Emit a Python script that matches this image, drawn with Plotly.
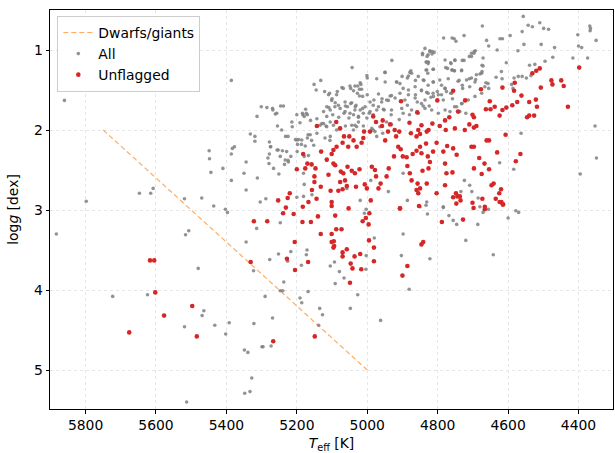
import plotly.graph_objects as go

# Effective temperature [K] and surface gravity [dex] for the full sample
teff_all = [
    5860, 5883, 5386, 5151, 5145, 5301, 5285, 5269, 5246, 5238,
    5313, 5261, 5200, 5184, 5175, 5179, 5170, 5161, 5143, 5255,
    5213, 5191, 5332, 5319, 5232, 5225, 5204, 5195, 5168, 5278,
    5198, 5187, 5176, 5158, 5152, 5377, 5383, 5275, 5256, 5241,
    5229, 5199, 5179, 5449, 5386, 5278, 5282, 5448, 5225, 5217,
    5235, 5167, 5344, 5279, 5444, 5410, 5350, 5251, 5386, 5312,
    5179, 5344, 5647, 5615, 5608, 5798, 5519, 5470, 5304, 5288,
    5200, 5181, 5436, 5403, 5157, 5319, 5274, 5253,
    4557, 4543, 4531, 4510, 4499, 4485, 4560, 4594, 4616, 4623,
    4673, 4725, 4753, 4748, 4783, 4661, 4655, 4555, 4506, 4468,
    4402, 4368, 4366, 4367, 4350, 4400, 4391, 4572, 4631, 4693,
    4697, 4704, 4725, 4751, 4763, 4772, 4758, 4752, 4732, 4822,
    4816, 4843, 4830, 4833, 4826, 4930, 5043, 5001, 4950, 4879,
    4833, 4813, 4605, 4539, 4524, 4495, 4473, 4416, 4374, 4671,
    4674, 4619, 4634, 4617, 4583, 4571, 4560, 4548, 4535, 4710,
    4692, 4680, 4663, 4655, 4590, 4586, 4739, 4729, 4770, 4779,
    4763, 4758, 4752, 4737, 4720, 4731, 4789, 4801, 4813, 4839,
    4863, 4886, 4901, 4917, 4949, 4973, 5000, 5020, 5035, 5047,
    5068, 5085, 5100, 5121, 5132, 5110, 5022, 5013, 5000, 4968,
    4958, 4940, 4931, 4907, 4883, 4863, 4846, 4831, 4819, 4813,
    4858, 4841, 4824, 4886, 4898, 4880, 4909, 4932, 4952, 4983,
    4994, 5013, 5034, 5047, 5062, 5077, 5092, 5109, 5124, 5115,
    5098, 5081, 5066, 5052, 5039, 5025, 5044, 5030, 5011, 4983,
    4964, 4945, 4931, 5129, 5117, 5105, 5079, 5062, 5120, 5106,
    4973, 4956, 4563, 4353, 4349, 4584, 4624, 4395, 5115, 5058,
    4990, 5020, 4898, 4940, 4886, 4831, 4724, 4709, 4703, 4784,
    4850, 4734, 4685,
    5516, 5507, 5397, 5314, 5247, 5344, 5480, 5252, 5277, 5226,
    5217, 5171, 5173, 5187, 5323, 5237, 5247, 5240, 5168, 5723,
    5624, 5290, 5191, 5186, 5135, 5127, 5464, 5469, 5519, 5433,
    5392, 5322, 5269, 5138, 5402, 5299, 5296, 5273, 5349, 5339,
    5328, 5348, 5333, 5513, 5105, 5093, 5091, 5079,
    5008, 5003, 4829, 4833, 4898, 4980, 5003, 5004, 4903, 4822,
    5066, 4881, 5027, 5048, 4962, 4784, 4768, 4756, 4746, 4720,
    4686, 4671, 4680, 4656, 4642, 4600, 4578, 4570,
    5107, 5087, 5072, 5049, 5039, 5027, 5018, 5016, 5028, 5022,
    5101, 5115, 5105, 5091, 5082, 5063, 5056, 5044, 5032, 5020,
    5006, 4992, 4981, 5063, 5049, 5035, 5025, 5011, 5001, 4992,
    4983, 4973, 5268, 5257, 5183, 5173, 5214, 5243, 5200, 5186,
    5170, 5162, 5143, 5134, 5124, 5115, 5096, 5087, 5105, 5039,
    5035, 5025, 4987, 4978, 5247, 5233, 5224, 5266, 5181,
    4759, 4836, 4822, 4815, 4810, 4827, 4843, 4831, 4827, 4831,
    4828, 4812, 4779, 4762, 4751, 4730, 4704, 4696, 4710, 4760,
    4753, 4732, 4777, 4674, 4671, 4675, 4690, 4704, 4718, 4742,
    4730, 4709, 4694, 4949, 4916, 4907, 4883, 4876, 4874, 4898,
    4864, 4846, 4827, 4812, 4841, 4855, 4794, 4789, 4779, 4775,
    4760, 4784, 4798, 4812, 4827, 4836, 4846, 4864, 4883, 4893,
    4921, 4935, 4945, 4959, 4968, 4954, 4931, 4902, 4874, 4855,
    4836, 4817, 4798, 4779, 4765, 4746, 4732, 4713, 4694, 4675,
    4666, 4657,
]
logg_all = [
    1.63, 3.30, 1.38, 1.43, 1.50, 1.71, 1.72, 1.73, 1.70, 1.70,
    1.83, 1.80, 1.81, 1.79, 1.74, 1.83, 1.81, 1.88, 1.86, 1.95,
    1.96, 1.91, 2.05, 2.08, 2.08, 2.08, 2.12, 2.12, 2.06, 2.15,
    2.18, 2.18, 2.20, 2.13, 2.19, 2.21, 2.23, 2.21, 2.25, 2.26,
    2.27, 2.27, 2.33, 2.26, 2.30, 2.30, 2.35, 2.36, 2.38, 2.33,
    2.43, 2.32, 2.40, 2.42, 2.53, 2.48, 2.54, 2.55, 2.63, 2.60,
    2.68, 2.75, 2.79, 2.79, 2.73, 2.89, 2.86, 2.85, 2.90, 2.86,
    2.84, 2.83, 2.95, 2.99, 2.81, 2.14, 2.21, 2.25,
    0.58, 0.69, 0.71, 0.66, 0.73, 0.74, 0.77, 0.82, 0.86, 0.86,
    0.70, 0.82, 0.86, 0.89, 0.85, 0.88, 0.95, 0.93, 0.93, 0.97,
    0.81, 0.70, 0.73, 0.76, 0.88, 0.95, 0.97, 1.01, 1.00, 1.01,
    1.04, 1.08, 1.13, 1.13, 1.16, 1.23, 1.25, 1.26, 1.25, 1.02,
    1.05, 1.04, 1.08, 1.15, 1.15, 1.13, 1.22, 1.32, 1.28, 1.28,
    1.25, 1.24, 1.16, 1.19, 1.18, 1.14, 1.09, 1.10, 1.10, 1.20,
    1.27, 1.27, 1.34, 1.36, 1.35, 1.33, 1.33, 1.35, 1.32, 1.36,
    1.37, 1.30, 1.41, 1.48, 1.43, 1.48, 1.38, 1.48, 1.36, 1.48,
    1.54, 1.61, 1.71, 1.77, 1.79, 1.67, 1.56, 1.52, 1.40, 1.38,
    1.38, 1.35, 1.33, 1.40, 1.40, 1.36, 1.35, 1.41, 1.45, 1.48,
    1.48, 1.52, 1.61, 1.52, 1.38, 1.56, 1.49, 1.58, 1.56, 1.55,
    1.61, 1.63, 1.57, 1.54, 1.50, 1.56, 1.51, 1.53, 1.59, 1.54,
    1.65, 1.70, 1.70, 1.69, 1.79, 1.81, 1.87, 1.81, 1.75, 1.69,
    1.79, 1.73, 1.71, 1.67, 1.70, 1.73, 1.71, 1.72, 1.77, 1.83,
    1.81, 1.84, 1.79, 1.85, 1.81, 1.84, 1.94, 1.96, 1.95, 2.00,
    1.96, 1.90, 1.93, 1.92, 1.95, 1.90, 1.98, 1.95, 2.10, 2.13,
    2.08, 2.04, 2.04, 1.95, 2.35, 2.49, 2.41, 2.55, 2.38, 2.73,
    2.63, 2.88, 2.54, 2.77, 2.88, 2.90, 2.63, 2.69, 2.77, 2.96,
    2.96, 2.77, 2.85,
    3.31, 3.26, 3.03, 3.23, 3.16, 3.40, 3.73, 3.55, 3.62, 3.64,
    3.52, 3.50, 3.56, 3.69, 3.76, 3.90, 4.01, 4.01, 4.02, 4.08,
    4.06, 4.08, 4.10, 4.16, 4.23, 4.31, 4.26, 4.32, 4.46, 4.44,
    4.41, 4.42, 4.35, 4.44, 4.55, 4.71, 4.71, 4.70, 4.75, 4.78,
    5.10, 5.29, 5.27, 5.40, 3.70, 3.65, 3.92, 3.77,
    3.04, 2.99, 3.05, 2.94, 3.30, 3.35, 3.57, 3.74, 3.57, 3.61,
    3.85, 3.99, 4.06, 4.23, 4.38, 2.97, 3.07, 3.13, 3.18, 3.38,
    3.18, 3.03, 2.96, 2.99, 3.56, 3.10, 3.01, 3.03,
    1.54, 1.56, 1.47, 1.45, 1.51, 1.45, 1.43, 1.49, 1.54, 1.575,
    1.63, 1.71, 1.75, 1.66, 1.69, 1.65, 1.71, 1.66, 1.69, 1.75,
    1.71, 1.65, 1.625, 1.77, 1.79, 1.75, 1.83, 1.79, 1.85, 1.77,
    1.81, 1.75, 1.75, 1.79, 1.81, 1.79, 1.90, 2.00, 2.125, 2.125,
    2.10, 2.06, 2.04, 1.94, 1.92, 1.96, 1.94, 2.00, 2.08, 2.00,
    1.94, 1.90, 1.98, 2.02, 2.33, 2.375, 2.40, 2.48, 2.54,
    0.85, 0.98, 1.01, 1.02, 1.03, 1.06, 1.06, 1.15, 1.17, 1.25,
    1.29, 1.24, 1.125, 1.17, 1.125, 1.13, 1.04, 1.02, 1.08, 1.25,
    1.26, 1.26, 1.22, 1.19, 1.10, 1.29, 1.31, 1.35, 1.375, 1.39,
    1.44, 1.46, 1.40, 1.28, 1.40, 1.42, 1.325, 1.26, 1.29, 1.48,
    1.46, 1.50, 1.44, 1.40, 1.375, 1.33, 1.375, 1.44, 1.48, 1.52,
    1.54, 1.625, 1.56, 1.58, 1.54, 1.625, 1.67, 1.60, 1.56, 1.625,
    1.60, 1.575, 1.625, 1.65, 1.71, 1.74, 1.75, 1.73, 1.75, 1.79,
    1.73, 1.75, 1.79, 1.75, 1.77, 1.71, 1.67, 1.625, 1.58, 1.54,
    1.46, 1.42,
]

# Stars that pass all quality flags
teff_unflagged = [
    5143, 5182, 5200, 5176, 5170, 5158, 5147, 5150, 5150, 5220,
    5226, 5157, 5144, 5253, 5231, 5183, 5167,
    4510, 4520, 4531, 4398, 4477, 4474, 4449, 4442, 4507, 4581,
    4583, 4616, 4562, 4574, 4588, 4605, 4616, 4624, 4540, 4521,
    4518, 4430, 4526, 4540, 4546, 4677, 4652, 4663, 4650, 4638,
    4722, 4756, 4801, 4742, 4701, 4697, 4710, 4697, 4690, 4723,
    4751, 4767, 4779, 4777, 4794, 4815, 4826, 4846, 4855, 4858,
    4880, 4876, 4860, 4850, 4831, 4904, 4909, 4918, 4922, 4941,
    4958, 4975, 4983, 4956, 4935, 4949, 4992, 5009, 5011, 5016,
    5039, 5051, 5066, 5054, 5030, 5088, 5077, 5070, 5087, 5096,
    5101, 5096, 5091, 5115, 5110, 5131, 5132, 5075, 5068, 5056,
    5044, 5035, 5022, 5077, 5063, 5104, 5082, 5070, 5058, 5032,
    5007, 5001, 4987, 4978, 4975, 4962, 4968, 4990, 4939, 4945,
    4924, 4912, 4905, 4899, 4888, 4871, 4860, 4850, 4833, 4846,
    4828, 4813, 4803, 4886, 4879, 4874, 4857, 4850, 4822, 4826,
    4843, 4831, 4855, 4860, 4907, 4784, 4773, 4756, 4746, 4779,
    4775, 4758, 4803, 4779, 4756, 4737, 4748, 4704, 4697, 4682,
    4667, 4661, 4654, 4697, 4675, 4654, 4647, 4641, 4631, 4607,
    4620, 4625, 4635, 4619, 4614, 4673, 4666, 4565, 4578, 4701,
    4735, 4744,
    5101, 5101, 5239, 5209, 5140, 5091, 5322, 5284, 5184, 5160,
    5088, 5132, 5101, 5206, 5101, 5095, 5094, 5096, 5617, 5605,
    5331, 5228, 5168, 5205, 5602, 5497, 5577, 5676, 5484, 5267,
    5149,
    5053, 5073, 5070, 5070, 5058, 5047, 5042, 5036, 5020, 5017,
    5049, 4994, 5004, 5013, 4996, 4995, 4981, 4981, 4907, 4853,
    4846, 4841, 4886, 4900, 4788, 4747, 4728, 4698, 4666, 4624,
    4615,
]
logg_unflagged = [
    1.95, 2.30, 2.49, 2.48, 2.42, 2.43, 2.48, 2.58, 2.65, 2.79,
    2.85, 2.75, 2.86, 2.88, 2.97, 2.96, 2.90,
    1.23, 1.26, 1.29, 1.22, 1.38, 1.43, 1.38, 1.45, 1.47, 1.41,
    1.51, 1.47, 1.57, 1.65, 1.69, 1.72, 1.75, 1.82, 1.65, 1.62,
    1.71, 1.71, 1.82, 1.82, 1.84, 1.49, 1.64, 1.74, 1.74, 1.71,
    1.63, 1.51, 1.63, 1.77, 1.81, 1.84, 1.93, 1.97, 1.95, 2.00,
    1.98, 1.84, 1.88, 2.00, 1.95, 1.92, 2.00, 1.94, 2.00, 1.78,
    1.91, 2.04, 2.08, 2.05, 2.02, 1.64, 2.02, 2.08, 2.00, 2.02,
    1.95, 1.90, 1.83, 1.88, 1.93, 2.13, 2.02, 2.02, 2.10, 2.16,
    2.13, 2.08, 2.08, 2.21, 2.21, 1.90, 1.98, 2.16, 2.21, 2.25,
    2.30, 2.42, 2.44, 2.37, 2.56, 2.27, 2.71, 2.52, 2.54, 2.46,
    2.51, 2.54, 2.49, 2.65, 2.63, 2.76, 2.76, 2.74, 2.70, 2.71,
    2.68, 2.73, 2.46, 2.50, 2.58, 2.67, 2.73, 2.88, 2.48, 2.58,
    2.33, 2.21, 2.24, 2.33, 2.34, 2.30, 2.26, 2.21, 2.17, 2.29,
    2.33, 2.27, 2.16, 2.45, 2.54, 2.63, 2.67, 2.73, 2.40, 2.48,
    2.51, 2.67, 2.79, 2.75, 2.98, 2.27, 2.20, 2.23, 2.31, 2.42,
    2.54, 2.53, 2.79, 2.69, 2.84, 2.83, 2.79, 2.21, 2.21, 2.35,
    2.42, 2.13, 2.13, 2.48, 2.55, 2.49, 2.69, 2.67, 2.28, 2.06,
    2.74, 2.79, 2.86, 2.90, 2.93, 2.86, 2.96, 2.30, 2.39, 2.91,
    2.88, 2.83,
    2.90, 2.95, 3.04, 3.05, 3.08, 3.07, 3.14, 3.14, 3.15, 3.15,
    3.24, 3.30, 3.30, 3.40, 3.40, 3.39, 3.45, 3.47, 3.63, 3.63,
    3.65, 3.61, 3.65, 3.75, 4.03, 4.20, 4.32, 4.53, 4.58, 4.64,
    4.58,
    2.98, 3.24, 3.53, 3.58, 3.49, 3.67, 3.73, 3.58, 3.55, 3.74,
    3.91, 3.04, 3.10, 3.14, 3.18, 3.38, 3.47, 3.64, 2.98, 2.95,
    3.43, 3.40, 3.70, 3.82, 3.15, 2.92, 3.12, 2.975, 2.99, 2.90,
    2.93,
]

# Dwarf/giant separation line
boundary_teff = [5750, 5000]
boundary_logg = [2.0, 5.0]

x_ticks = [5800, 5600, 5400, 5200, 5000, 4800, 4600, 4400]
y_ticks = [1, 2, 3, 4, 5]

FONT = "DejaVu Sans"
FS = 13.9

fig = go.Figure()
fig.add_trace(go.Scatter(
    x=boundary_teff, y=boundary_logg, mode="lines", name="Dwarfs/giants",
    line=dict(color="rgba(255,127,14,0.65)", width=1.2, dash="5px,3px"),
))
fig.add_trace(go.Scatter(
    x=teff_all, y=logg_all, mode="markers", name="All",
    marker=dict(color="rgba(128,128,128,0.85)", size=3.6, line=dict(width=0)),
))
fig.add_trace(go.Scatter(
    x=teff_unflagged, y=logg_unflagged, mode="markers", name="Unflagged",
    marker=dict(color="#d62728", size=4.6, line=dict(width=0)),
))

axis_common = dict(
    showline=True, linecolor="black", linewidth=1, mirror=True,
    ticks="outside", ticklen=3.5, tickwidth=1, tickcolor="black",
    showgrid=True, gridcolor="#e6e6e6", griddash="3px,3px", gridwidth=0.8,
    zeroline=False, tickfont=dict(family=FONT, size=FS, color="black"),
)

fig.update_xaxes(
    range=[5901, 4302], tickvals=x_ticks,
    title=dict(text="<i>T</i><sub>eff</sub> [K]", font=dict(family=FONT, size=FS, color="black"), standoff=8),
    **axis_common,
)
fig.update_yaxes(
    range=[5.4875, 0.5], tickvals=y_ticks,
    title=dict(text="log<i>g</i> [dex]", font=dict(family=FONT, size=FS, color="black"), standoff=12),
    **axis_common,
)

fig.update_layout(
    width=615, height=453,
    margin=dict(l=50, r=2, t=10, b=44),
    paper_bgcolor="white", plot_bgcolor="white",
    font=dict(family=FONT, size=FS, color="black"),
    showlegend=True,
    legend=dict(
        x=0.013, y=0.985, xanchor="left", yanchor="top",
        bgcolor="rgba(255,255,255,0.85)", bordercolor="#cccccc", borderwidth=1,
        font=dict(family=FONT, size=FS, color="black"),
        itemwidth=30, tracegroupgap=0,
    ),
)

fig.write_html("out.html")
